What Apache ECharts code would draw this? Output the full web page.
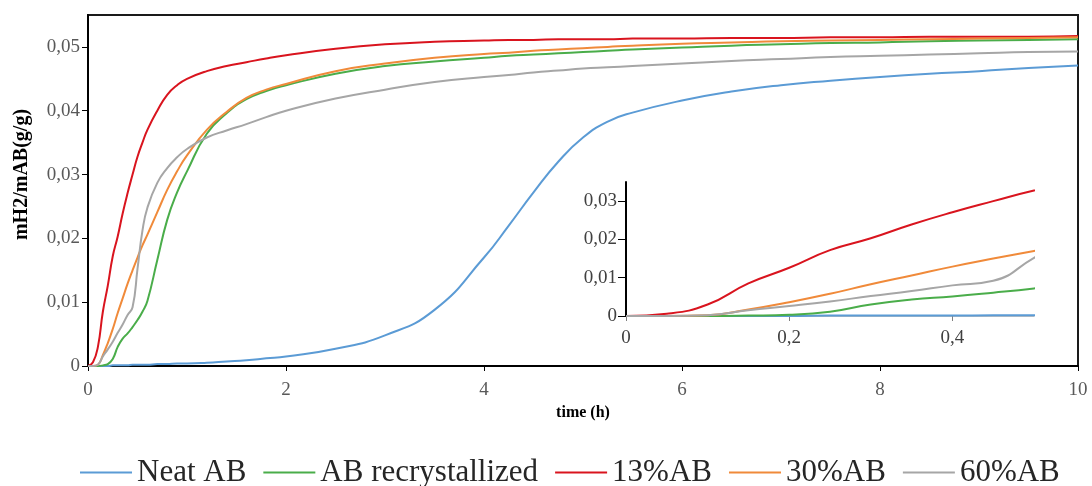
<!DOCTYPE html>
<html>
<head>
<meta charset="utf-8">
<script src="https://cdn.jsdelivr.net/npm/echarts@6/dist/echarts.min.js"></script>
<style>
html,body{margin:0;padding:0;background:#fff;}
#chart{width:1092px;height:486px;}
</style>
</head>
<body>
<div id="chart"></div>
<script>
// time (h)
var time = [0,0.05,0.1,0.15,0.2,0.25,0.3,0.35,0.4,0.45,0.5,0.55,0.6,0.7,0.8,0.9,1.0,1.2,1.4,1.6,1.8,2.0,2.5,3.0,3.5,4.0,4.25,4.5,4.75,5.0,5.25,5.5,6,6.5,7,7.5,8,8.5,9,9.5,10];
var neatAB = [0,0,0,0,0,0.0001,0.0001,0.0001,0.0001,0.0002,0.0002,0.0002,0.0002,0.0003,0.0003,0.0004,0.0004,0.0005,0.0007,0.0009,0.0012,0.0015,0.0027,0.0048,0.0088,0.0170,0.0220,0.0272,0.0320,0.0358,0.0383,0.0397,0.0416,0.0430,0.0440,0.0447,0.0453,0.0458,0.0462,0.0467,0.0471];
var abRecryst = [0,0,0,0.0001,0.0003,0.0011,0.0030,0.0043,0.0051,0.0061,0.0072,0.0085,0.0102,0.0166,0.0229,0.0272,0.0305,0.0364,0.0396,0.0418,0.0431,0.0440,0.0458,0.0470,0.0477,0.0483,0.0486,0.0488,0.0490,0.0492,0.0494,0.0496,0.0499,0.0502,0.0504,0.0506,0.0507,0.0509,0.0510,0.0511,0.0512];
var ab13 = [0,0.0006,0.003,0.0085,0.0126,0.0172,0.0203,0.0239,0.0271,0.0300,0.0328,0.0350,0.0370,0.0400,0.0425,0.0440,0.0450,0.0462,0.0470,0.0476,0.0482,0.0487,0.0497,0.0504,0.0508,0.0510,0.0511,0.0511,0.0512,0.0512,0.0512,0.0513,0.0513,0.0514,0.0514,0.0515,0.0515,0.0516,0.0516,0.0516,0.0517];
var ab30 = [0,0,0.0002,0.0017,0.0036,0.0058,0.0083,0.0106,0.0129,0.0150,0.0170,0.0189,0.0206,0.0241,0.0276,0.0305,0.0330,0.0370,0.0398,0.0420,0.0433,0.0442,0.0462,0.0474,0.0483,0.0489,0.0491,0.0494,0.0496,0.0498,0.0500,0.0502,0.0505,0.0507,0.0509,0.0510,0.0511,0.0512,0.0513,0.0514,0.0515];
var ab60 = [0,0,0.0002,0.0015,0.0026,0.0038,0.0052,0.0065,0.0080,0.0092,0.0152,0.0212,0.0248,0.0287,0.0310,0.0327,0.0340,0.0358,0.0369,0.0379,0.0390,0.0400,0.0419,0.0433,0.0445,0.0453,0.0456,0.0460,0.0463,0.0466,0.0468,0.0470,0.0474,0.0478,0.0481,0.0484,0.0486,0.0488,0.0490,0.0492,0.0493];

var seriesNames = ['Neat AB','AB recrystallized','13%AB','30%AB','60%AB'];
var seriesValues = [neatAB, abRecryst, ab13, ab30, ab60];
var seriesColors = ['#5b9bd5','#4aad4a','#d9141e','#f08a3a','#a6a6a6'];

var mainYTicks = [0,0.01,0.02,0.03,0.04,0.05];
var mainXTicks = [0,2,4,6,8,10];
var insetYTicks = [0,0.01,0.02,0.03];
var insetXTicks = [0,0.2,0.4];

var serif = '"Liberation Serif","Times New Roman",serif';
function comma(d){ return function(v){ return v===0 ? '0' : v.toFixed(d).replace('.',','); }; }

function pairs(vals){ return time.map(function(t,i){ return [t, vals[i]]; }); }

var series = [];
[0,1].forEach(function(g){
  seriesNames.forEach(function(n,i){
    series.push({
      name:n, type:'line', xAxisIndex:g, yAxisIndex:g,
      data: pairs(seriesValues[i]),
      symbol:'none', smooth:0.5, clip:true,
      color: seriesColors[i],
      itemStyle:{color:seriesColors[i]},
      lineStyle:{color:seriesColors[i], width:2},
      z: 2 + g*5
    });
  });
});

var chart = echarts.init(document.getElementById('chart'), null, {renderer:'canvas'});
chart.setOption({
  animation:false,
  backgroundColor:'#fff',
  grid:[
    {left:88, top:15, right:14, bottom:120, show:true, borderColor:'#1a1a1a', borderWidth:2, backgroundColor:'transparent'},
    {left:626, top:182, width:408, bottom:170, show:false, z:5}
  ],
  legend:{
    data:seriesNames, left:75, top:452, icon:'rect', itemWidth:52, itemHeight:2, itemGap:17,
    textStyle:{fontFamily:serif, fontSize:31, color:'#262626'}
  },
  xAxis:[
    {type:'value', gridIndex:0, min:0, max:10, interval:2,
     name:'time (h)', nameLocation:'middle', nameGap:37,
     nameTextStyle:{fontFamily:serif, fontSize:16, fontWeight:'bold', color:'#000'},
     axisLine:{show:true, onZero:false, lineStyle:{color:'#000', width:2}},
     axisTick:{show:true, inside:false, length:5, lineStyle:{color:'#000'}, customValues:mainXTicks},
     axisLabel:{fontFamily:serif, fontSize:19, color:'#595959', margin:15, customValues:mainXTicks, formatter:comma(0)},
     splitLine:{show:false}},
    {type:'value', gridIndex:1, min:0, max:0.5, interval:0.1,
     axisLine:{show:true, onZero:false, lineStyle:{color:'#bfbfbf', width:1}},
     axisTick:{show:true, length:5, lineStyle:{color:'#7f7f7f'}, customValues:insetXTicks},
     axisLabel:{fontFamily:serif, fontSize:19, color:'#404040', margin:13, customValues:insetXTicks, formatter:comma(1)},
     splitLine:{show:false}}
  ],
  yAxis:[
    {type:'value', gridIndex:0, min:0, max:0.055, interval:0.01,
     name:'mH2/mAB(g/g)', nameLocation:'middle', nameGap:56,
     nameTextStyle:{fontFamily:serif, fontSize:20, fontWeight:'bold', color:'#000', padding:[0,0,0,32]},
     axisLine:{show:true, onZero:false, lineStyle:{color:'#000', width:2}},
     axisTick:{show:true, length:6, lineStyle:{color:'#000'}, customValues:mainYTicks},
     axisLabel:{fontFamily:serif, fontSize:19, color:'#595959', margin:8, customValues:mainYTicks, formatter:comma(2)},
     splitLine:{show:false}},
    {type:'value', gridIndex:1, min:0, max:0.035, interval:0.01,
     axisLine:{show:true, onZero:false, lineStyle:{color:'#000', width:2}},
     axisTick:{show:true, length:8, lineStyle:{color:'#000'}, customValues:insetYTicks},
     axisLabel:{fontFamily:serif, fontSize:19, color:'#404040', margin:9, customValues:insetYTicks, formatter:comma(2)},
     splitLine:{show:false}}
  ],
  series:series
});
</script>
</body>
</html>
